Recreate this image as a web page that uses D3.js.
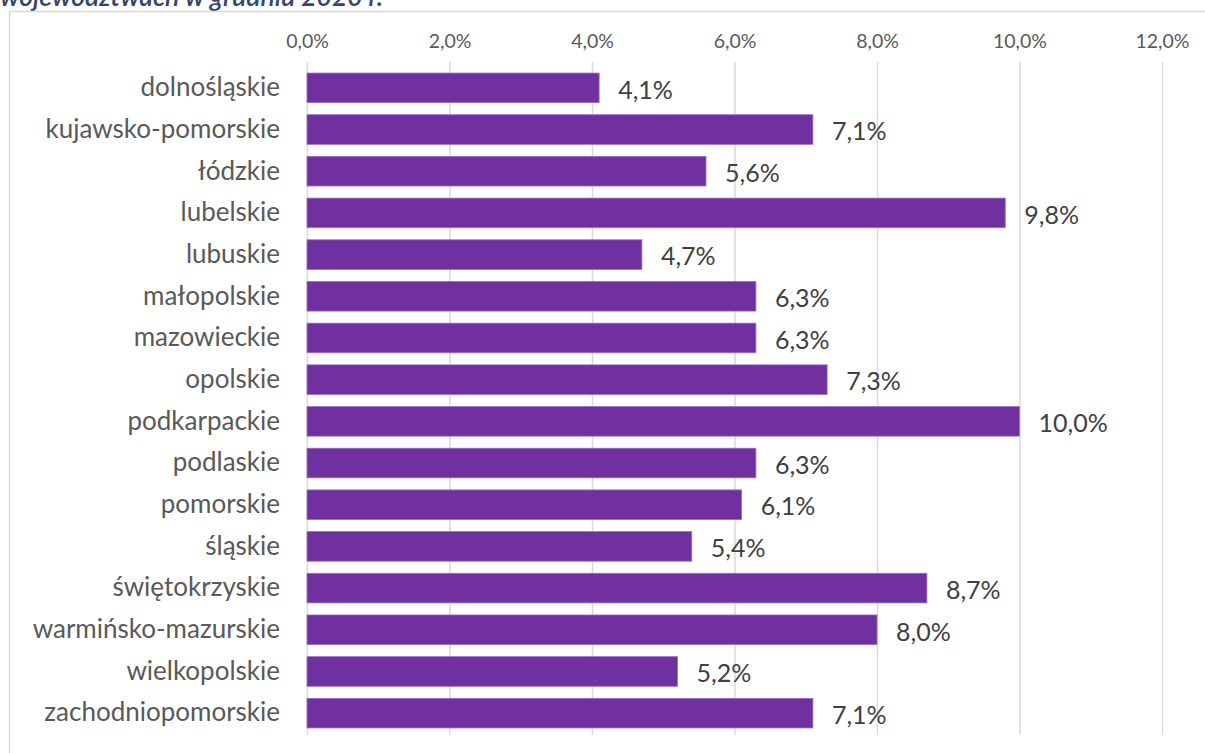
<!DOCTYPE html>
<html><head><meta charset="utf-8">
<script src="https://cdn.jsdelivr.net/npm/d3@7"></script>
<style>body{margin:0;background:#fff}svg{display:block}</style>
</head><body>
<svg id="c" width="1205" height="753"></svg>
<script>
const titleText = "województwach w grudniu 2020 r.";
const categories = ["dolnośląskie","kujawsko-pomorskie","łódzkie","lubelskie","lubuskie","małopolskie","mazowieckie","opolskie","podkarpackie","podlaskie","pomorskie","śląskie","świętokrzyskie","warmińsko-mazurskie","wielkopolskie","zachodniopomorskie"];
const values = [4.1,7.1,5.6,9.8,4.7,6.3,6.3,7.3,10.0,6.3,6.1,5.4,8.7,8.0,5.2,7.1];
const tickValues = [0,2,4,6,8,10,12];

const svg = d3.select("#c");
const fmt = v => d3.format(".1f")(v).replace(".", ",") + "%";
const FONT = "Lato, 'Open Sans', sans-serif";

svg.append("text").attr("x", 0).attr("y", 6)
  .attr("font-family", FONT).attr("font-style", "italic").attr("font-weight", 600)
  .attr("font-size", 26.5).attr("fill", "#33466B").text(titleText);

svg.append("rect").attr("x", 9.5).attr("y", 11.5).attr("width", 1300).attr("height", 800)
  .attr("fill", "none").attr("stroke", "#d9d9d9").attr("stroke-width", 1.5);

const x = d3.scaleLinear().domain([0, 12]).range([307, 1162]);
const y = d3.scaleBand().domain(categories).range([67, 734]).paddingInner(0.29).paddingOuter(0.145);

const xAxis = svg.append("g").attr("transform", "translate(0,62)")
  .call(d3.axisTop(x).tickValues(tickValues).tickFormat(d => fmt(d)).tickSize(-673));
xAxis.select(".domain").remove();
xAxis.selectAll(".tick line").attr("stroke", "#d9d9d9").attr("stroke-width", 1.5);
xAxis.selectAll(".tick text").attr("font-family", FONT).attr("font-size", 19.5)
  .attr("fill", "#595959").attr("y", -14);

svg.append("g").selectAll("rect").data(categories).join("rect")
  .attr("x", x(0)).attr("y", d => y(d))
  .attr("width", (d, i) => x(values[i]) - x(0)).attr("height", y.bandwidth())
  .attr("fill", "#7030A0").attr("stroke", "#9b6cc4").attr("stroke-width", 0.8);

const yAxis = svg.append("g").attr("transform", "translate(307,0)")
  .call(d3.axisLeft(y).tickSize(0).tickPadding(27));
yAxis.select(".domain").remove();
yAxis.selectAll("text").attr("font-family", FONT).attr("font-size", 26).attr("fill", "#595959");

svg.append("g").selectAll("text").data(categories).join("text")
  .attr("x", (d, i) => x(values[i]) + 19)
  .attr("y", d => y(d) + y.bandwidth() / 2 + 2)
  .attr("dy", "0.35em")
  .attr("font-family", FONT).attr("font-size", 25).attr("fill", "#404040")
  .text((d, i) => fmt(values[i]));
</script>
</body></html>
